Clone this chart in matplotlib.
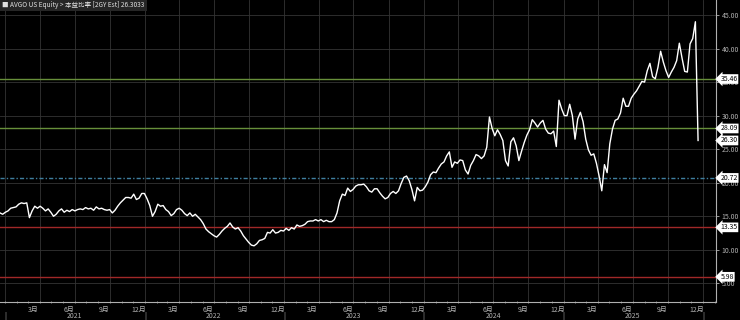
import pandas as pd
import matplotlib
matplotlib.use("Agg")
import matplotlib.pyplot as plt
import matplotlib.dates as mdates
import matplotlib.transforms as mtransforms

plt.rcParams['font.family'] = ['Noto Sans CJK SC', 'DejaVu Sans']

# --- data ---
title = "AVGO US Equity > 本益比率 [2GY Est] 26.3033"
start_date = "2020-12-18"   # weekly readings (Fridays)
pe_values = [
    15.5, 15.3, 15.6, 15.8, 16.2, 16.3, 16.4, 16.8, 17.0, 16.9, 17.0, 14.8, 15.8, 16.5, 16.2, 16.5,
    16.2, 15.8, 16.1, 15.6, 15.0, 15.3, 15.8, 16.1, 15.6, 15.9, 15.7, 16.0, 15.8, 16.0, 16.1, 16.0,
    16.3, 16.1, 16.2, 15.9, 16.4, 16.1, 16.2, 16.0, 15.9, 16.0, 15.5, 15.9, 16.5, 17.0, 17.4, 17.8,
    17.8, 17.7, 18.3, 17.5, 17.7, 18.4, 18.4, 17.6, 16.6, 15.0, 15.7, 16.8, 16.5, 16.6, 16.0, 15.7,
    15.1, 15.4, 16.0, 16.2, 15.9, 15.4, 15.1, 15.5, 15.0, 15.3, 14.9, 14.5, 13.9, 13.1, 12.7, 12.4,
    12.1, 11.9, 12.3, 12.8, 13.2, 13.5, 14.0, 13.4, 13.1, 13.3, 12.8, 12.1, 11.6, 11.1, 10.7, 10.6,
    10.9, 11.4, 11.5, 11.7, 12.6, 12.5, 13.0, 12.5, 12.6, 12.9, 12.8, 13.2, 12.9, 13.3, 13.1, 13.7,
    13.5, 13.6, 13.8, 14.2, 14.3, 14.3, 14.5, 14.3, 14.5, 14.2, 14.4, 14.2, 14.2, 14.5, 15.5, 17.3,
    18.3, 18.1, 19.2, 18.7, 19.0, 19.5, 19.7, 19.7, 19.8, 19.4, 18.8, 18.6, 19.1, 19.1, 18.5, 18.0,
    17.6, 17.8, 18.4, 18.7, 18.4, 18.8, 19.9, 20.8, 21.0, 20.3, 19.0, 17.3, 19.3, 18.8, 18.9, 19.4,
    20.1, 21.2, 21.6, 21.5, 22.2, 22.8, 23.1, 24.0, 24.6, 22.3, 23.1, 22.9, 23.4, 23.3, 21.9, 21.3,
    22.6, 23.3, 24.2, 24.0, 23.6, 24.0, 25.3, 29.8, 28.1, 27.0, 27.9, 27.2, 26.3, 23.3, 22.5, 26.1,
    26.7, 25.5, 23.3, 24.7, 26.0, 27.1, 27.9, 29.4, 28.9, 28.3, 28.9, 29.3, 28.0, 27.4, 27.3, 27.7,
    25.4, 32.3, 31.0, 30.0, 30.0, 31.7, 30.0, 26.5, 29.5, 30.5, 29.1, 26.5, 24.9, 24.1, 24.3, 22.9,
    21.0, 18.8, 22.7, 21.5, 25.8, 28.0, 29.3, 29.5, 30.4, 32.6, 31.4, 31.4, 32.6, 33.2, 33.7, 34.4,
    35.1, 35.0, 36.7, 37.8, 35.8, 35.5, 37.2, 39.6, 38.0, 36.7, 35.7, 36.5, 37.2, 38.2, 40.8, 38.6,
    36.6, 36.5, 40.7, 41.5, 44.0, 26.3,
]
last_value = 26.30
ref_levels = [35.46, 28.09, 20.72, 13.35, 5.98]
ref_colors = ["#678f3a", "#678f3a", "#3f7f9f", "#a02828", "#a02828"]
ref_styles = ["-", "-", (0, (3, 1.5, 1, 1.5)), "-", "-"]
years = [2021, 2022, 2023, 2024, 2025]
label_months = [3, 6, 9, 12]
y_ticks = [5, 10, 15, 20, 25, 30, 35, 40, 45]

dates = pd.date_range(start_date, periods=len(pe_values), freq="7D")

fig = plt.figure(figsize=(7.4, 3.2), dpi=100, facecolor="black")
ax = fig.add_axes([0.0, 0.056, 0.9676, 0.944], facecolor="black")

grid_c = "#343434"
axis_c = "#b0b0b0"

# grid
for yv in y_ticks:
    ax.axhline(yv, color=grid_c, lw=0.6, zorder=1)
quarters = pd.date_range("2021-01-01", "2026-01-01", freq="QS")
for q in quarters:
    ax.axvline(q, color=grid_c, lw=0.6, zorder=1)

# reference lines
for lvl, c, ls in zip(ref_levels, ref_colors, ref_styles):
    ax.axhline(lvl, color=c, lw=1.0, ls=ls, zorder=2)

ax.plot(dates, pe_values, color="white", lw=1.0, zorder=3)

ax.set_xlim(pd.Timestamp("2020-12-18"), pd.Timestamp("2026-02-04"))
ax.set_ylim(2.21, 47.24)

# y axis on the right
ax.yaxis.tick_right()
ax.set_yticks(y_ticks)
ax.set_yticklabels([f"{v:.2f}" for v in y_ticks])
ax.tick_params(axis="y", colors=axis_c, labelsize=5, length=2.5, width=0.6, pad=1.5)
for side in ["left", "top"]:
    ax.spines[side].set_visible(False)
for side in ["right", "bottom"]:
    ax.spines[side].set_color(axis_c)
    ax.spines[side].set_linewidth(0.8)

# x axis: month labels centred in month, minor ticks at month starts
mid_months = [pd.Timestamp(y, m, 16) for y in years for m in label_months]
ax.set_xticks(mid_months)
ax.set_xticklabels([f"{d.month}月" for d in mid_months])
ax.tick_params(axis="x", colors=axis_c, labelsize=5, length=0, pad=2.5)
ax.xaxis.set_minor_locator(mdates.MonthLocator())
ax.tick_params(axis="x", which="minor", length=2, width=0.5, direction="inout", colors=axis_c)

xt = ax.get_xaxis_transform()
for y in years:
    ax.text(pd.Timestamp(y, 7, 1), -0.047, str(y), transform=xt, ha="center", va="center",
            fontsize=5, color=axis_c, clip_on=False)
for y in years + [2026]:
    ax.text(pd.Timestamp(y, 1, 1), -0.047, "|", transform=xt, ha="center", va="center",
            fontsize=5, color=axis_c, clip_on=False)

# value boxes on the right
bt = mtransforms.blended_transform_factory(ax.transAxes, ax.transData)
for lvl in ref_levels + [last_value]:
    ax.text(1.006, lvl, f"{lvl:.2f}", transform=bt, ha="left", va="center", fontsize=5,
            color="black", zorder=10, clip_on=False,
            bbox=dict(boxstyle="larrow,pad=0.12", fc="white", ec="none"))

# title box
fig.text(0.003, 0.984, "■ " + title, ha="left", va="center", fontsize=4.7, color="#e0e0e0",
         bbox=dict(boxstyle="square,pad=0.35", fc="#262626", ec="none"))

fig.savefig("out.png", dpi=100, facecolor="black")
